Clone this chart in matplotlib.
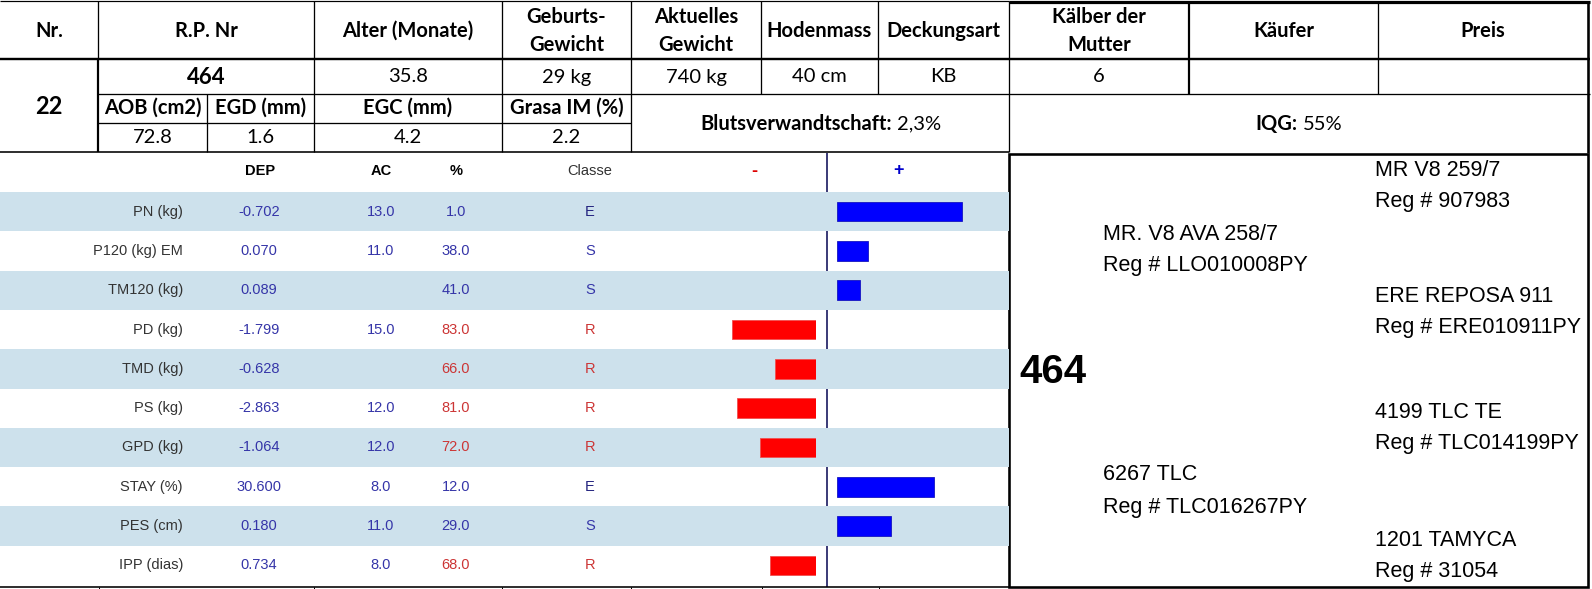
import matplotlib
matplotlib.use('Agg')
import matplotlib.pyplot as plt

W, H, DPI = 1592, 589, 100

# ---------------- data ----------------
header_cols = ["Nr.", "R.P. Nr", "Alter (Monate)", "Geburts-\nGewicht", "Aktuelles\nGewicht",
               "Hodenmass", "Deckungsart", "Kälber der\nMutter", "Käufer", "Preis"]
animal_nr = "22"
rp_nr = "464"
row2_values = ["35.8", "29 kg", "740 kg", "40 cm", "KB", "6", "", ""]
carcass_headers = ["AOB (cm2)", "EGD (mm)", "EGC (mm)", "Grasa IM (%)"]
carcass_values = ["72.8", "1.6", "4.2", "2.2"]
blut_label, blut_value = "Blutsverwandtschaft:", "2,3%"
iqg_label, iqg_value = "IQG:", "55%"

table_headers = ["DEP", "AC", "%", "Classe"]
traits = ["PN (kg)", "P120 (kg) EM", "TM120 (kg)", "PD (kg)", "TMD (kg)", "PS (kg)",
          "GPD (kg)", "STAY (%)", "PES (cm)", "IPP (dias)"]
dep = ["-0.702", "0.070", "0.089", "-1.799", "-0.628", "-2.863", "-1.064", "30.600", "0.180", "0.734"]
ac = ["13.0", "11.0", "", "15.0", "", "12.0", "12.0", "8.0", "11.0", "8.0"]
pct = [1.0, 38.0, 41.0, 83.0, 66.0, 81.0, 72.0, 12.0, 29.0, 68.0]
classe = ["E", "S", "S", "R", "R", "R", "R", "E", "S", "R"]
bar_values = [49, 12, 9, -33, -16, -31, -22, 38, 21, -18]

ped_animal = "464"
ped_sire = ["MR. V8 AVA 258/7", "Reg # LLO010008PY"]
ped_dam = ["6267 TLC", "Reg # TLC016267PY"]
ped_grand = [["MR V8 259/7", "Reg # 907983"],
             ["ERE REPOSA 911", "Reg # ERE010911PY"],
             ["4199 TLC TE", "Reg # TLC014199PY"],
             ["1201 TAMYCA", "Reg # 31054"]]

# ---------------- styles ----------------
TOPFONT = ["Lato", "DejaVu Sans"]
MIDFONT = ["Liberation Sans", "DejaVu Sans"]
PEDFONT = ["Liberation Sans", "DejaVu Sans"]
BAND = "#cde1ec"
BLUE_TXT = "#3535a8"
NAVY_TXT = "#23237f"
RED_TXT = "#cc3535"
LABEL_TXT = "#333333"
PX = 72.0 / DPI  # one pixel in points

fig = plt.figure(figsize=(W / DPI, H / DPI), dpi=DPI)
fig.patch.set_facecolor("white")
ax = fig.add_axes([0, 0, 1, 1])
ax.set_xlim(0, W)
ax.set_ylim(H, 0)
ax.axis("off")


def hl(y, x0, x1, lw=1.3, c="black"):
    ax.plot([x0, x1], [y, y], color=c, lw=lw * PX, solid_capstyle="butt", zorder=5)


def vl(x, y0, y1, lw=1.3, c="black"):
    ax.plot([x, x], [y0, y1], color=c, lw=lw * PX, solid_capstyle="butt", zorder=5)


# ---------------- top table ----------------
cx = [0, 98, 314, 502, 631, 761, 878, 1009, 1189, 1378, 1588]

hl(1, 0, 1009, 1.2)
hl(2, 1009, 1590, 3.2)
hl(59, 0, 1590, 2.4)
hl(94, 98, 1590, 1.3)
hl(123, 98, 631, 1.3)
hl(152, 0, 1009, 1.6)
for x in [314, 502, 631, 761, 878, 1009, 1378]:
    vl(x, 1, 94, 1.3)
vl(98, 1, 59, 1.3)
vl(98, 59, 152, 2.2)
vl(1189, 1, 94, 2.2)
vl(1588, 1, 153, 2.6)
for x in [207, 314, 502, 631, 1009]:
    vl(x, 94, 152, 1.3)

TS = 14.5
for i, lab in enumerate(header_cols):
    xc = (cx[i] + cx[i + 1]) / 2
    lines = lab.split("\n")
    ys = [31] if len(lines) == 1 else [17, 45]
    for t, y in zip(lines, ys):
        ax.text(xc, y, t, ha="center", va="center", fontsize=TS,
                fontweight="bold", family=TOPFONT, color="black")

ax.text(206, 77, rp_nr, ha="center", va="center", fontsize=16, fontweight="bold",
        family=TOPFONT)
ax.text(49, 106, animal_nr, ha="center", va="center", fontsize=17, fontweight="bold",
        family=TOPFONT)
for i, v in enumerate(row2_values):
    xc = (cx[i + 2] + cx[i + 3]) / 2
    ax.text(xc, 77, v, ha="center", va="center", fontsize=TS, family=TOPFONT)

sub_x = [98, 207, 314, 502, 631]
for i, (h_, v) in enumerate(zip(carcass_headers, carcass_values)):
    xc = (sub_x[i] + sub_x[i + 1]) / 2
    ax.text(xc, 108, h_, ha="center", va="center", fontsize=TS, fontweight="bold",
            family=TOPFONT)
    ax.text(xc, 137.5, v, ha="center", va="center", fontsize=TS, family=TOPFONT)

renderer = fig.canvas.get_renderer()


def two_part(xc, y, bold_txt, norm_txt, size, gap=5):
    t1 = ax.text(0, y, bold_txt, ha="left", va="center", fontsize=size,
                 fontweight="bold", family=TOPFONT)
    t2 = ax.text(0, y, norm_txt, ha="left", va="center", fontsize=size, family=TOPFONT)
    w1 = t1.get_window_extent(renderer).width
    w2 = t2.get_window_extent(renderer).width
    x0 = xc - (w1 + gap + w2) / 2
    t1.set_x(x0)
    t2.set_x(x0 + w1 + gap)


two_part(821, 124, blut_label, blut_value, TS)
two_part(1299, 124, iqg_label, iqg_value, TS)

# ---------------- middle table ----------------
TOP, BOT = 192, 585
n = len(traits)
axt = fig.add_axes([0, 1 - BOT / H, 1009 / W, (BOT - TOP) / H])
axt.set_xlim(0, 1009)
axt.set_ylim(n - 0.5, -0.5)
axt.axis("off")
for i in range(0, n, 2):
    axt.axhspan(i - 0.5, i + 0.5, color=BAND, lw=0, zorder=0)

MS = 10.5
hy = 171
ax.text(260, hy, table_headers[0], ha="center", va="center", fontsize=MS,
        fontweight="bold", family=MIDFONT, color="black")
ax.text(381, hy, table_headers[1], ha="center", va="center", fontsize=MS,
        fontweight="bold", family=MIDFONT, color="black")
ax.text(456, hy, table_headers[2], ha="center", va="center", fontsize=MS,
        fontweight="bold", family=MIDFONT, color="black")
ax.text(590, hy, table_headers[3], ha="center", va="center", fontsize=MS,
        family=MIDFONT, color=LABEL_TXT)
ax.text(754, hy, "-", ha="center", va="center", fontsize=13, fontweight="bold",
        family=MIDFONT, color="#dd0000")
ax.text(899, hy, "+", ha="center", va="center", fontsize=13, fontweight="bold",
        family=MIDFONT, color="#0000cc")

for i in range(n):
    axt.text(183, i, traits[i], ha="right", va="center", fontsize=MS, family=MIDFONT,
             color=LABEL_TXT)
    axt.text(259, i, dep[i], ha="center", va="center", fontsize=MS, family=MIDFONT,
             color=BLUE_TXT)
    axt.text(381, i, ac[i], ha="center", va="center", fontsize=MS, family=MIDFONT,
             color=BLUE_TXT)
    pc = RED_TXT if pct[i] > 50 else BLUE_TXT
    axt.text(456, i, f"{pct[i]:.1f}", ha="center", va="center", fontsize=MS,
             family=MIDFONT, color=pc)
    cc = RED_TXT if classe[i] == "R" else (NAVY_TXT if classe[i] == "E" else BLUE_TXT)
    axt.text(590, i, classe[i], ha="center", va="center", fontsize=MS, family=MIDFONT,
             color=cc)

# ---------------- bars ----------------
SCALE = 2.55  # px per unit
pos_l, pos_r = 837, 1000
neg_l, neg_r = 690, 816
ax_pos = fig.add_axes([pos_l / W, 1 - BOT / H, (pos_r - pos_l) / W, (BOT - TOP) / H])
ax_neg = fig.add_axes([neg_l / W, 1 - BOT / H, (neg_r - neg_l) / W, (BOT - TOP) / H])
for a in (ax_pos, ax_neg):
    a.patch.set_alpha(0)
    a.axis("off")
    a.set_ylim(n - 0.5, -0.5)
ax_pos.set_xlim(0, (pos_r - pos_l) / SCALE)
ax_neg.set_xlim(-(neg_r - neg_l) / SCALE, 0)
pos_rows = [i for i, v in enumerate(bar_values) if v > 0]
neg_rows = [i for i, v in enumerate(bar_values) if v < 0]
ax_pos.barh(pos_rows, [bar_values[i] for i in pos_rows], height=0.5, color="#0000ff",
            edgecolor="#1515c0", linewidth=0.6)
ax_neg.barh(neg_rows, [bar_values[i] for i in neg_rows], height=0.5, color="#ff0000",
            edgecolor="#f05050", linewidth=0.6)

vl(827, 153, 587, 1.6, c="#10105a")
hl(587, 0, 1009, 1.6)
for x in [99, 314, 502, 631, 762, 879]:
    vl(x, 587, 589, 1.0)

# ---------------- pedigree ----------------
ax.add_patch(plt.Rectangle((1009, 153.5), 579, 433, fill=False, edgecolor="black",
                           lw=2.6 * PX, zorder=6))
PS_ = 15.5
ax.text(1019, 372, ped_animal, ha="left", va="center", fontsize=29, fontweight="bold",
        family=PEDFONT)
for (nm, rg), y in zip([ped_sire, ped_dam], [234, 475]):
    ax.text(1103, y, nm, ha="left", va="center", fontsize=PS_, family=PEDFONT)
    ax.text(1103, y + 32, rg, ha="left", va="center", fontsize=PS_, family=PEDFONT)
for (nm, rg), y in zip(ped_grand, [171, 297, 412, 540]):
    ax.text(1375, y, nm, ha="left", va="center", fontsize=PS_, family=PEDFONT)
    ax.text(1375, y + 31, rg, ha="left", va="center", fontsize=PS_, family=PEDFONT)

fig.savefig("out.png", dpi=DPI, facecolor="white")
